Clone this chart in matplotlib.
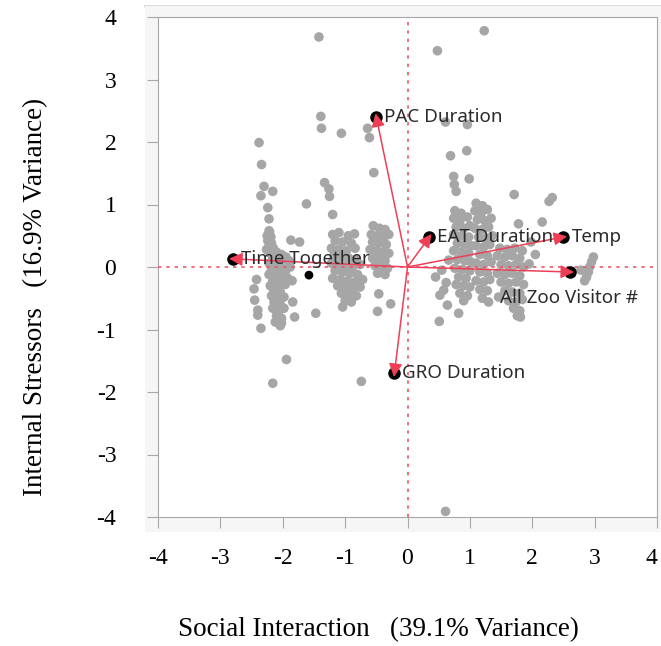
import matplotlib.pyplot as plt
from matplotlib.patches import Rectangle, FancyArrowPatch
from matplotlib.lines import Line2D
import numpy as np

# score points, grouped by cluster
left_pts = [
    (-2.38, 1.99), (-2.34, 1.64), (-2.30, 1.29), (-2.35, 1.14), (-2.16, 1.21), (-2.24, 0.95),
    (-2.22, 0.77), (-1.62, 1.01), (-2.21, 0.56), (-1.87, 0.43), (-1.73, 0.40), (-2.46, -0.35),
    (-2.45, -0.53), (-2.40, -0.69), (-2.40, -0.77), (-2.35, -0.98), (-1.84, -0.56), (-1.81, -0.80),
    (-1.47, -0.74), (-1.94, -1.48), (-2.16, -1.86), (-2.02, -0.90), (-2.42, -0.20),
    (-2.22, 0.58), (-2.25, 0.50), (-2.19, 0.48), (-2.24, 0.42), (-2.18, 0.38), (-2.22, 0.33),
    (-2.15, 0.30), (-2.26, 0.28),
    (-2.20, 0.22), (-2.10, 0.24), (-2.02, 0.20), (-1.95, 0.16), (-2.16, 0.14), (-2.06, 0.12),
    (-1.90, 0.10), (-2.22, 0.06), (-2.12, 0.04), (-2.00, 0.02), (-1.88, 0.00), (-2.18, -0.04),
    (-2.08, -0.06), (-1.96, -0.08), (-2.22, -0.12), (-2.12, -0.14), (-2.02, -0.16), (-1.92, -0.18),
    (-1.85, -0.22), (-2.16, -0.22), (-2.06, -0.26), (-1.96, -0.28), (-2.20, -0.30), (-2.10, -0.32),
    (-2.14, -0.38), (-2.04, -0.40), (-2.18, -0.46), (-2.08, -0.50), (-1.98, -0.48), (-2.14, -0.56),
    (-2.04, -0.60), (-2.16, -0.66), (-2.06, -0.70), (-1.98, -0.66), (-2.10, -0.78), (-2.02, -0.82),
    (-2.12, -0.88), (-2.04, -0.94),
]
mid_pts = [
    (-1.39, 2.41), (-1.38, 2.22), (-1.06, 2.14), (-0.64, 2.22), (-0.61, 2.07), (-0.54, 1.51),
    (-1.33, 1.35), (-1.26, 1.25), (-1.25, 1.13), (-1.20, 0.84), (-1.04, -0.64), (-0.46, -0.43),
    (-0.27, -0.59), (-0.48, -0.71), (-1.42, 3.68), (-0.74, -1.83),
    (-1.20, 0.52), (-1.10, 0.55), (-0.95, 0.50), (-0.85, 0.53), (-1.16, 0.42), (-1.04, 0.40),
    (-0.90, 0.38), (-1.22, 0.30), (-1.10, 0.28), (-0.98, 0.26), (-0.84, 0.30),
    (-1.18, 0.18), (-1.06, 0.16), (-0.94, 0.14), (-0.82, 0.12), (-1.22, 0.06), (-1.12, 0.04),
    (-1.00, 0.02), (-0.88, 0.00), (-0.76, 0.04),
    (-1.16, -0.06), (-1.04, -0.08), (-0.92, -0.10), (-0.80, -0.12), (-1.20, -0.18), (-1.08, -0.20),
    (-0.96, -0.22), (-0.84, -0.24), (-0.72, -0.20),
    (-1.12, -0.30), (-1.00, -0.32), (-0.88, -0.34), (-0.76, -0.32), (-1.06, -0.42), (-0.94, -0.44),
    (-0.82, -0.46), (-1.00, -0.54), (-0.90, -0.56),
    (-0.55, 0.66), (-0.45, 0.62), (-0.36, 0.60), (-0.58, 0.52), (-0.48, 0.50), (-0.38, 0.48),
    (-0.30, 0.52), (-0.56, 0.40), (-0.46, 0.38), (-0.34, 0.36), (-0.60, 0.28), (-0.50, 0.26),
    (-0.40, 0.24), (-0.30, 0.22), (-0.56, 0.14), (-0.46, 0.12), (-0.36, 0.10), (-0.52, 0.02),
    (-0.42, 0.00), (-0.32, -0.02), (-0.48, -0.10), (-0.36, -0.12),
]
right_pts = [
    (0.48, 3.46), (1.23, 3.78), (0.69, 1.78), (0.74, 1.45), (0.75, 1.32), (0.78, 1.21),
    (0.99, 1.41), (0.95, 1.86), (0.61, 2.32), (0.96, 2.28), (0.61, -3.91),
    (0.64, -0.61), (0.82, -0.74), (0.51, -0.87), (0.58, -0.37), (0.45, -0.16), (0.66, 0.11),
    (0.55, -0.05), (0.62, -0.25), (0.52, -0.45), (1.46, -0.48),
    (1.71, 1.16), (1.78, 0.69), (2.16, 0.72), (2.27, 1.05), (2.32, 1.11), (1.81, -0.80),
    (0.76, 0.90), (0.86, 0.86), (0.74, 0.78), (0.84, 0.74), (0.96, 0.80), (0.78, 0.64),
    (0.90, 0.62), (1.00, 0.66), (0.74, 0.52), (0.86, 0.50), (0.98, 0.48), (0.80, 0.38),
    (0.92, 0.36), (1.02, 0.34), (0.74, 0.26), (0.86, 0.24), (0.98, 0.22), (0.80, 0.12),
    (0.92, 0.10), (1.02, 0.08), (0.76, -0.02), (0.88, -0.04), (1.00, -0.06), (0.82, -0.16),
    (0.94, -0.18), (0.78, -0.28), (0.90, -0.30), (1.00, -0.32), (0.84, -0.42), (0.96, -0.46),
    (0.90, -0.54),
    (1.10, 1.02), (1.20, 0.98), (1.08, 0.90), (1.18, 0.86), (1.28, 0.92), (1.12, 0.76),
    (1.24, 0.74), (1.34, 0.78), (1.08, 0.62), (1.20, 0.60), (1.30, 0.64), (1.14, 0.48),
    (1.26, 0.46), (1.36, 0.50), (1.10, 0.34), (1.22, 0.32), (1.32, 0.36), (1.16, 0.20),
    (1.28, 0.18), (1.10, 0.06), (1.22, 0.04), (1.34, 0.08), (1.16, -0.08), (1.28, -0.10),
    (1.10, -0.22), (1.22, -0.24), (1.32, -0.20), (1.16, -0.36), (1.28, -0.38), (1.20, -0.50),
    (1.30, -0.56),
    (1.48, 0.30), (1.60, 0.28), (1.72, 0.30), (1.84, 0.26), (1.44, 0.18), (1.56, 0.16),
    (1.68, 0.18), (1.80, 0.14), (1.50, 0.04), (1.62, 0.02), (1.74, 0.04), (1.86, 0.00),
    (1.44, -0.10), (1.56, -0.12), (1.68, -0.10), (1.80, -0.14), (1.50, -0.24), (1.62, -0.26),
    (1.74, -0.24), (1.86, -0.28), (1.56, -0.38), (1.68, -0.40), (1.80, -0.42), (1.62, -0.54),
    (1.74, -0.56), (1.84, -0.52), (1.70, -0.66), (1.80, -0.70), (1.76, -0.78),
    (1.98, 0.40), (2.05, 0.20), (1.95, 0.05),
    (2.98, 0.16), (2.95, 0.08), (2.92, 0.00), (2.90, -0.08), (2.87, -0.16), (2.84, -0.22),
    (2.78, -0.05),
]
black_pt = (-1.58, -0.13)

# loading vectors
load_names = ["PAC Duration", "EAT Duration", "Temp", "All Zoo Visitor #", "Time Together", "GRO Duration"]
load_x = [-0.50, 0.35, 2.50, 2.61, -2.80, -0.21]
load_y = [2.40, 0.48, 0.48, -0.08, 0.13, -1.70]

ticks = [-4, -3, -2, -1, 0, 1, 2, 3, 4]

W, H = 661, 646
fig = plt.figure(figsize=(W / 100, H / 100), dpi=100)

# light grey JMP-style frame behind the plot
fig.patches.append(Rectangle((145 / W, 1 - 532 / H), (W - 145) / W, (532 - 6) / H,
                             transform=fig.transFigure, facecolor='#f6f6f6',
                             edgecolor='none', zorder=-5))
fig.lines.append(Line2D([145 / W, 1], [1 - 6 / H, 1 - 6 / H], transform=fig.transFigure,
                        color='#d8d8d8', lw=2, zorder=-5))

ax = fig.add_axes([158 / W, 1 - 517 / H, (657 - 158) / W, (517 - 17) / H])
ax.set_facecolor('white')

pts = np.array(left_pts + mid_pts + right_pts)
ax.scatter(pts[:, 0], pts[:, 1], s=48, color='#a6a6a6', edgecolors='none', zorder=2)
ax.scatter([black_pt[0]], [black_pt[1]], s=40, color='black', edgecolors='none', zorder=3)

ref = '#f0566a'
ax.axhline(0, color=ref, lw=1.2, ls=(0, (2, 3)), zorder=3)
ax.axvline(0, color=ref, lw=1.2, ls=(0, (2, 3)), zorder=3)

ax.plot(load_x, load_y, 'o', color='black', ms=8, zorder=4)
for name, lx, ly in zip(load_names, load_x, load_y):
    # head half over the marker like in the JMP output
    k = 1 + 0.06 / np.hypot(lx, ly)
    arr = FancyArrowPatch((0, 0), (lx * k, ly * k), arrowstyle='-|>', mutation_scale=20,
                          shrinkA=0, shrinkB=0, color='#ee3f57', lw=1.1, zorder=5)
    ax.add_patch(arr)
    if name == "All Zoo Visitor #":
        off = (-70, -26)
    else:
        off = (8, 0)
    ax.annotate(name, xy=(lx, ly), xytext=off, textcoords='offset pixels',
                ha='left', va='center', fontsize=13.5, family='Noto Sans',
                color='#2b2b2b', zorder=6)

ax.set_xlim(-4, 4)
ax.set_ylim(-4, 4)
ax.set_xticks(ticks)
ax.set_yticks(ticks)
ax.set_xticklabels([str(t) for t in ticks], family='Liberation Serif', fontsize=17)
ax.set_yticklabels([str(t) for t in ticks], family='Liberation Serif', fontsize=17)
ax.get_xticklabels()[-1].set_horizontalalignment('right')
ax.tick_params(axis='x', direction='out', length=8, color='#a8a8a8', pad=14)
ax.tick_params(axis='y', direction='out', length=8, color='#a8a8a8', pad=22)
for sp in ax.spines.values():
    sp.set_color('#a8a8a8')

fig.text(378 / W, 1 - 630 / H, "Social Interaction   (39.1% Variance)",
         ha='center', va='center', family='Liberation Serif', fontsize=19.5)
fig.text(36 / W, 1 - 297 / H, "Internal Stressors   (16.9% Variance)",
         ha='center', va='center', rotation=90, family='Liberation Serif', fontsize=19.5)

fig.savefig('out.png', dpi=100)
